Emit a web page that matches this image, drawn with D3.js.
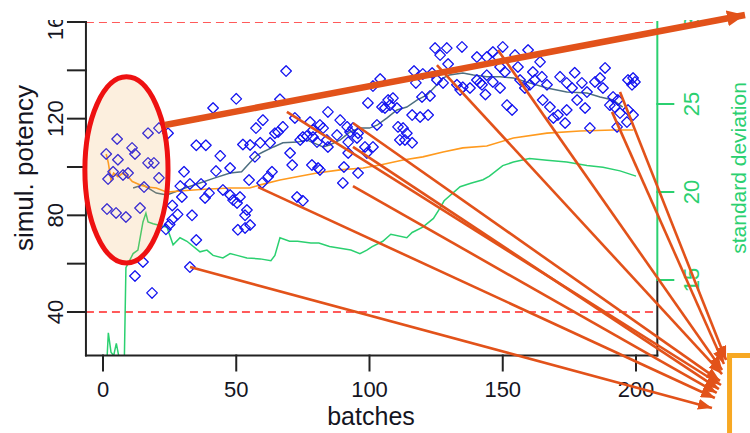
<!DOCTYPE html>
<html><head><meta charset="utf-8">
<script src="https://cdn.jsdelivr.net/npm/d3@7/dist/d3.min.js"></script>
<style>body{margin:0;background:#fff} svg{display:block}</style>
</head><body><svg id="c" width="750" height="433"></svg>
<script>
// ---- data ----
const batches = [1.2,1.5,1.9,3.8,4.9,5.3,5.6,7.5,8.6,9.4,10.9,12.0,12.0,13.9,15.0,15.4,16.9,16.9,18.4,19.1,21.0,21.0,23.6,24.4,25.0,26.0,26.0,28.0,29.0,29.6,30.4,32.6,32.6,33.4,35.0,35.0,36.8,38.3,38.6,39.8,41.3,42.4,44.0,45.0,47.7,47.7,48.8,50.0,50.3,50.6,51.4,52.5,53.3,53.3,54.0,54.8,55.2,55.2,57.0,57.4,59.0,59.7,60.0,62.0,62.7,63.4,64.5,65.7,66.4,67.5,68.7,70.2,71.0,72.0,72.8,74.0,75.0,75.0,76.5,77.7,78.4,78.8,78.8,80.3,80.7,81.4,81.4,82.6,84.0,84.4,84.4,87.8,89.0,90.0,90.4,91.6,92.0,92.0,92.7,93.8,95.3,95.7,95.7,98.3,99.0,99.4,101.3,101.3,102.8,104.0,104.7,105.8,107.0,107.7,108.8,110.3,110.7,111.4,112.6,113.3,114.0,116.0,116.0,116.7,117.4,119.0,119.7,120.0,122.0,122.7,123.5,124.6,125.3,126.5,127.6,129.0,129.5,132.8,134.0,134.7,135.0,137.7,140.3,140.3,141.5,142.2,143.5,144.0,144.0,146.3,146.3,148.2,149.0,149.0,150.0,150.8,151.6,153.5,154.6,155.7,156.5,158.3,159.5,160.2,161.3,162.0,164.0,164.7,165.0,166.6,167.7,169.0,170.7,171.5,173.4,174.0,174.0,176.0,177.0,177.9,179.7,180.9,181.6,182.7,184.6,186.5,187.6,188.4,190.2,191.4,192.0,192.9,193.2,194.0,196.6,197.0,197.0,198.5,198.9,198.9,199.6];
const potency = [105.4,82.6,95.0,98.0,81.0,111.6,103.0,96.7,79.3,97.5,107.9,105.4,54.9,83.0,60.7,91.7,114.0,101.7,47.9,101.7,116.1,95.5,74.2,114.0,76.2,78.3,84.1,80.4,92.1,87.6,98.0,93.0,58.6,80.0,109.0,69.8,93.0,87.2,109.0,89.2,124.4,98.3,104.6,90.5,99.6,88.4,86.3,128.2,85.1,74.0,87.6,109.3,80.0,74.8,82.2,94.6,76.0,109.1,104.2,116.1,110.0,93.4,119.4,96.0,110.0,98.0,114.0,114.5,128.0,116.6,139.7,105.8,100.8,120.3,87.6,111.2,112.4,86.0,112.8,118.6,100.8,115.3,112.4,110.3,99.6,117.4,98.8,116.1,111.2,108.3,122.8,113.2,119.4,93.4,100.0,116.6,110.3,105.8,114.5,116.1,112.0,114.0,97.5,108.3,105.8,126.5,133.5,108.3,117.4,136.4,124.8,124.4,127.7,125.6,128.5,124.4,116.6,111.2,116.1,111.2,114.0,121.5,110.0,139.7,134.8,120.7,129.0,138.5,121.5,129.4,138.9,149.2,136.0,146.3,134.8,149.2,142.6,134.0,131.9,149.7,133.0,132.7,136.0,145.5,134.8,134.0,130.0,138.0,145.5,147.6,135.2,145.5,132.7,141.4,149.7,139.3,125.6,123.6,146.3,141.4,136.0,132.7,148.4,134.0,139.3,136.0,143.5,137.3,127.7,134.0,124.8,120.3,121.5,137.3,118.2,134.8,123.6,132.7,139.0,127.7,134.8,124.4,131.0,116.1,135.2,136.8,132.7,141.0,125.6,129.0,124.8,116.6,127.7,122.3,118.6,123.6,136.0,134.0,121.5,136.8,135.2];

// moving mean (slate line)
const movBatch = [11.3,15,20,24,30.8,36.4,42,47.7,52,55,58,60,64,67.5,73,76.5,79,82.6,85,89,92.7,96.4,100,103,106.6,110.3,114,117.8,121.6,125.3,127.6,130,135,139,144,149,154,160,166.6,174,181.6,186.5,191.4,195];
const movMean  = [91.3,92.6,89.2,88.4,91.3,93.4,95.5,97.5,98,101.7,105,106.2,108.3,110,110.3,111.2,110,108.3,109.1,111.2,114.5,116.1,116.1,117.4,120.3,123.6,124.8,127.7,129.8,134,136.8,138.1,138.9,138.1,137.3,137.3,136.8,134.8,132.7,131,130.6,129,127.7,124.8];

// cumulative mean (orange line)
const cumBatch = [1.2,2,3,4,5.6,7.5,9.4,11,14,16.5,20,24,30,38,47.7,55,59,66.4,72.8,80.3,89,97.6,104,112.6,120,127.6,135,144,154,166.6,179,191.4,199];
const cumMean  = [105.4,101.7,94.6,97.5,96,97.5,96,94,92.6,91.7,91.3,89.6,90.2,90.8,91.3,91.3,92.6,94.6,96,97.5,98.8,99.6,100.8,102.9,104.2,106.2,107.9,108.7,112,114,114.9,115.3,115.3];

// standard deviation (green line, right axis)
const sdBatch = [1.5,2,3,4,5,6,7,8,8.6,11.3,13.1,15,16.1,16.9,18.8,21.4,24,26.3,28.9,31.5,36.4,39,41.3,45,47.7,50.3,54,59,63,64.5,66.4,70,73,78,81,85,89,93,96.4,99,101,105,108,114,116,120,124,126.5,128,134,138,142.6,145,150,154,160,166.6,174,181.6,187.6,194,200];
const sdValue = [10.5,12.0,10.9,10.7,11.4,10.6,10.5,10.4,15.7,16.5,16.7,18.3,18.8,18.3,18.2,18.1,18.0,17.0,17.4,17.2,16.6,16.7,16.4,16.25,16.5,16.4,16.25,16.2,16.1,16.4,17.4,17.2,17.2,17.1,17.1,16.9,16.8,16.7,16.5,16.7,16.9,17.2,17.6,17.4,17.7,18.0,18.5,19.1,19.5,20.3,20.5,20.7,20.9,21.5,21.7,21.9,21.8,21.7,21.5,21.4,21.2,20.9];

const xTicks = [0,50,100,150,200];
const yTicks = [40,60,80,100,120,140,160];
const yTickLabels = [40,80,120,160];
const sdTicks = [15,20,25];
const sdTickLabels = [15,20,25,30];
const limitLines = [40,160];
const plotX = [-6.4,208];
const plotY = [22,160];

// annotations (data units)
const ellipseC = [8.8,98.8], ellipseR = [15.6,38.5];
const bigArrow = [[23.3,117.4],[240.9,162.9]];
const arrowFrom = [[32.65,58.6],[58.2,91.7],[69.0,122.8],[93.8,118.2],[93.8,108.3],[93.8,92.1],[125.3,142.2],[148.2,148.4],[191.0,122.8],[194.0,131.0]];
const arrowTo   = [[228.5,0.3],[229.6,4.4],[231.9,9.8],[231.5,11.5],[231.1,8.1],[230.3,6.5],[232.3,14.3],[232.3,16.0],[233.0,18.5],[233.8,20.1]];
const boxCorner = [235.1,22.0];

// ---- drawing ----
const svg = d3.select("#c");
const x = d3.scaleLinear().domain([0,200]).range([103,636]);
const y = d3.scaleLinear().domain([40,160]).range([312,22]);
const ySd = d3.scaleLinear().domain([15,25]).range([280,104]);
const font = "'Liberation Sans', Arial, sans-serif";
const ink = "#15151f";
const green = "#2bd070";
const orangeA = "#e2521a";

const L = x(plotX[0]), R = x(plotX[1]), T = y(plotY[1]), B = y(plotY[0]);

const defs = svg.append("defs");
defs.append("clipPath").attr("id","clip").append("rect")
  .attr("x",L).attr("y",T).attr("width",R-L).attr("height",B-T);
// the source picture is cropped just above the top limit line
defs.append("clipPath").attr("id","page").append("rect")
  .attr("x",0).attr("y",20).attr("width",750).attr("height",413);
defs.append("marker").attr("id","headS").attr("markerUnits","userSpaceOnUse")
  .attr("viewBox","0 0 14 11").attr("markerWidth",14).attr("markerHeight",11)
  .attr("refX",14).attr("refY",5.5).attr("orient","auto")
  .append("path").attr("d","M0,0L14,5.5L0,11Z").attr("fill",orangeA);
defs.append("marker").attr("id","headB").attr("markerUnits","userSpaceOnUse")
  .attr("viewBox","0 0 18 16").attr("markerWidth",18).attr("markerHeight",16)
  .attr("refX",18).attr("refY",8).attr("orient","auto")
  .append("path").attr("d","M0,0L18,8L0,16Z").attr("fill",orangeA);

const chart = svg.append("g").attr("clip-path","url(#page)");
const g = chart.append("g").attr("clip-path","url(#clip)");

// limit lines
g.selectAll("line.lim").data(limitLines).enter().append("line")
  .attr("x1",L).attr("x2",R).attr("y1",d=>y(d)).attr("y2",d=>y(d))
  .attr("stroke","#ff2424").attr("stroke-width",1.4).attr("stroke-dasharray","8,5");

// sd line
g.append("path").datum(d3.zip(sdBatch,sdValue))
  .attr("d",d3.line().x(d=>x(d[0])).y(d=>ySd(d[1])))
  .attr("fill","none").attr("stroke",green).attr("stroke-width",1.5);

// moving mean
g.append("path").datum(d3.zip(movBatch,movMean))
  .attr("d",d3.line().x(d=>x(d[0])).y(d=>y(d[1])))
  .attr("fill","none").attr("stroke","#4d6f80").attr("stroke-width",1.5);

// cumulative mean
g.append("path").datum(d3.zip(cumBatch,cumMean))
  .attr("d",d3.line().x(d=>x(d[0])).y(d=>y(d[1])))
  .attr("fill","none").attr("stroke","#ff9a1e").attr("stroke-width",1.6);

// points
g.selectAll("path.pt").data(d3.zip(batches,potency)).enter().append("path")
  .attr("class","pt")
  .attr("transform",d=>`translate(${x(d[0])},${y(d[1])})`)
  .attr("d","M0,-5.3L5.3,0L0,5.3L-5.3,0Z")
  .attr("fill","none").attr("stroke","#1414f0").attr("stroke-width",1.3)
  .attr("stroke-linejoin","round");

// axes frame
const ax = chart.append("g").attr("stroke-width",2).attr("stroke-linecap","square");
ax.append("line").attr("x1",L).attr("x2",L).attr("y1",T).attr("y2",B).attr("stroke","#222");
ax.append("line").attr("x1",L).attr("x2",R).attr("y1",B).attr("y2",B).attr("stroke","#222");
ax.append("line").attr("x1",R).attr("x2",R).attr("y1",ySd(15)).attr("y2",B).attr("stroke","#222");
ax.append("line").attr("x1",R).attr("x2",R).attr("y1",T).attr("y2",ySd(15)).attr("stroke",green);

// left ticks
ax.selectAll("line.yt").data(yTicks).enter().append("line")
  .attr("x1",L-18).attr("x2",L).attr("y1",d=>y(d)).attr("y2",d=>y(d)).attr("stroke","#222");
chart.selectAll("text.yl").data(yTickLabels).enter().append("text")
  .attr("transform",d=>`translate(63,${y(d)}) rotate(-90)`)
  .attr("text-anchor","middle").attr("font-family",font).attr("font-size",22)
  .attr("fill",ink).text(d=>d);

// bottom ticks
ax.selectAll("line.xt").data(xTicks).enter().append("line")
  .attr("x1",d=>x(d)).attr("x2",d=>x(d)).attr("y1",B).attr("y2",B+15).attr("stroke","#222");
chart.selectAll("text.xl").data(xTicks).enter().append("text")
  .attr("x",d=>x(d)).attr("y",397)
  .attr("text-anchor","middle").attr("font-family",font).attr("font-size",22)
  .attr("fill",ink).text(d=>d);

// right ticks
ax.selectAll("line.st").data(sdTicks).enter().append("line")
  .attr("x1",R).attr("x2",R+16).attr("y1",d=>ySd(d)).attr("y2",d=>ySd(d)).attr("stroke",green);
chart.selectAll("text.sl").data(sdTickLabels).enter().append("text")
  .attr("transform",d=>`translate(699,${ySd(d)}) rotate(-90)`)
  .attr("text-anchor","middle").attr("font-family",font).attr("font-size",22)
  .attr("fill",green).text(d=>d);

// titles
chart.append("text").attr("x",371).attr("y",425).attr("text-anchor","middle")
  .attr("font-family",font).attr("font-size",25).attr("fill",ink).text("batches");
chart.append("text").attr("transform","translate(33,168) rotate(-90)").attr("text-anchor","middle")
  .attr("font-family",font).attr("font-size",26).attr("fill",ink).text("simul. potency");
chart.append("text").attr("transform","translate(746,168) rotate(-90)").attr("text-anchor","middle")
  .attr("font-family",font).attr("font-size",21).attr("fill",green).text("standard deviation");

// annotations
svg.append("ellipse")
  .attr("cx",x(ellipseC[0])).attr("cy",y(ellipseC[1]))
  .attr("rx",x(ellipseC[0]+ellipseR[0])-x(ellipseC[0]))
  .attr("ry",y(ellipseC[1]-ellipseR[1])-y(ellipseC[1]))
  .attr("fill","rgb(240,165,70)").attr("fill-opacity",0.18)
  .attr("stroke","#ee1111").attr("stroke-width",5);

svg.append("rect").attr("x",x(boxCorner[0])).attr("y",y(boxCorner[1]))
  .attr("width",100).attr("height",100)
  .attr("fill","#fff").attr("stroke","#f7a823").attr("stroke-width",5);

svg.selectAll("line.arr").data(d3.zip(arrowFrom,arrowTo)).enter().append("line")
  .attr("x1",d=>x(d[0][0])).attr("y1",d=>y(d[0][1]))
  .attr("x2",d=>x(d[1][0])).attr("y2",d=>y(d[1][1]))
  .attr("stroke",orangeA).attr("stroke-width",2.6).attr("marker-end","url(#headS)");

svg.append("line")
  .attr("x1",x(bigArrow[0][0])).attr("y1",y(bigArrow[0][1]))
  .attr("x2",x(bigArrow[1][0])).attr("y2",y(bigArrow[1][1]))
  .attr("stroke",orangeA).attr("stroke-width",6.5).attr("marker-end","url(#headB)");
</script></body></html>
